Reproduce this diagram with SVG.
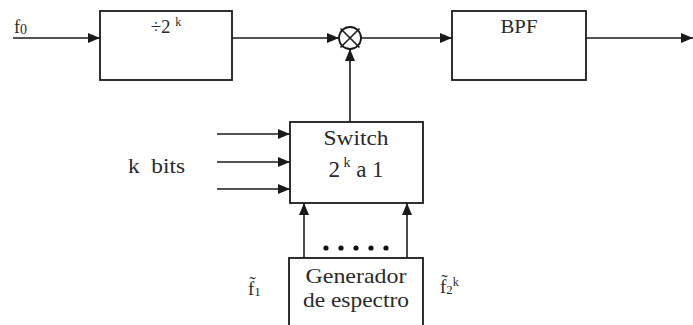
<svg xmlns="http://www.w3.org/2000/svg" width="693" height="325" viewBox="0 0 693 325">
<style>
.box{fill:#fff;stroke:#1a1a1a;stroke-width:1.8}
.ln{fill:none;stroke:#1a1a1a;stroke-width:1.6}
text{fill:#2a2a2a;font-family:"Liberation Serif","Times New Roman",serif}
.t{text-anchor:middle}
</style>
<defs>
<marker id="ah" viewBox="0 0 12 10" refX="12" refY="5" markerWidth="12" markerHeight="10" markerUnits="userSpaceOnUse" orient="auto">
<path d="M0,0 L12,5 L0,10 Z" fill="#1a1a1a"/>
</marker>
</defs>
<rect width="693" height="325" fill="#fff"/>
<g id="connectors">
<path class="ln" d="M13,38 H100" marker-end="url(#ah)"/>
<path class="ln" d="M232,38 H339" marker-end="url(#ah)"/>
<path class="ln" d="M350,122 V49" marker-end="url(#ah)"/>
<path class="ln" d="M361,38 H452" marker-end="url(#ah)"/>
<path class="ln" d="M586,38 H693" marker-end="url(#ah)"/>
<path class="ln" d="M217,134 H290" marker-end="url(#ah)"/>
<path class="ln" d="M217,162 H290" marker-end="url(#ah)"/>
<path class="ln" d="M217,189 H290" marker-end="url(#ah)"/>
<path class="ln" d="M304,258 V203" marker-end="url(#ah)"/>
<path class="ln" d="M407,258 V203" marker-end="url(#ah)"/>
</g>
<g id="input-f0">
<text x="14" y="33" font-size="18">f<tspan font-size="14" dy="1">0</tspan></text>
</g>
<g id="divider">
<rect class="box" x="100" y="11" width="132" height="69"/>
<text x="166" y="33" font-size="19" text-anchor="middle">÷2 <tspan font-size="12" dy="-7">k</tspan></text>
</g>
<g id="mixer">
<circle cx="350" cy="38" r="11" fill="#fff" stroke="#1a1a1a" stroke-width="1.8"/>
<path class="ln" d="M340.5,28.5 L359.5,47.5 M359.5,28.5 L340.5,47.5"/>
</g>
<g id="bpf">
<rect class="box" x="452" y="11" width="134" height="69"/>
<text class="t" x="519" y="33" font-size="18" textLength="37" lengthAdjust="spacingAndGlyphs">BPF</text>
</g>
<g id="switch">
<rect class="box" x="290" y="122" width="133" height="81"/>
<text class="t" x="356" y="145" font-size="21" textLength="65" lengthAdjust="spacingAndGlyphs">Switch</text>
<text x="356" y="177" font-size="23" text-anchor="middle">2<tspan font-size="14" dy="-10"> k</tspan><tspan dy="10"> a 1</tspan></text>
</g>
<g id="kbits">
<text x="128" y="173" font-size="21" textLength="57" lengthAdjust="spacingAndGlyphs">k&#160; bits</text>
</g>
<g id="dots" fill="#111">
<circle cx="326" cy="248" r="2.6"/>
<circle cx="341" cy="248" r="2.6"/>
<circle cx="356" cy="248" r="2.6"/>
<circle cx="371" cy="248" r="2.6"/>
<circle cx="386" cy="248" r="2.6"/>
</g>
<g id="generator">
<rect class="box" x="289" y="258" width="134" height="80"/>
<text class="t" x="356" y="283" font-size="21" textLength="101" lengthAdjust="spacingAndGlyphs">Generador</text>
<text class="t" x="356" y="307" font-size="21" textLength="106" lengthAdjust="spacingAndGlyphs">de espectro</text>
</g>
<g id="label-f1">
<text x="248" y="295" font-size="19">f̃<tspan font-size="13" dy="1">1</tspan></text>
</g>
<g id="label-f2k">
<text x="440" y="293" font-size="19">f̃<tspan font-size="13" dy="1">2</tspan><tspan font-size="12" dy="-8">k</tspan></text>
</g>
</svg>
